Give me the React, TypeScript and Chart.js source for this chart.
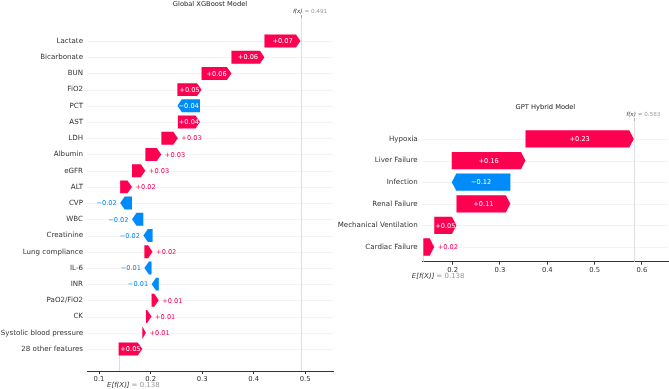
import React, { useEffect, useRef } from "react";
import { Chart, registerables } from "chart.js";

Chart.register(...registerables);

const FONT = "DejaVu Sans";
const PINK = "#ff0051";
const BLUE = "#008bfb";
const AXIS = "#333333";

// Global XGBoost model: SHAP contributions, listed top row first
const xgbFeatures = [
  "Lactate", "Bicarbonate", "BUN", "FiO2", "PCT", "AST", "LDH", "Albumin", "eGFR", "ALT",
  "CVP", "WBC", "Creatinine", "Lung compliance", "IL-6", "INR", "PaO2/FiO2", "CK",
  "Systolic blood pressure", "28 other features",
];
const xgbShap = [
  0.070, 0.064, 0.058, 0.047, -0.044, 0.043, 0.032, 0.031, 0.026, 0.023,
  -0.023, -0.022, -0.018, 0.016, -0.014, -0.014, 0.014, 0.011, 0.007, 0.046,
];
const xgbBase = 0.138;
const xgbTicks = [0.1, 0.2, 0.3, 0.4, 0.5];

// GPT hybrid model: SHAP contributions, listed top row first
const gptFeatures = [
  "Hypoxia", "Liver Failure", "Infection", "Renal Failure", "Mechanical Ventilation", "Cardiac Failure",
];
const gptShap = [0.229, 0.156, -0.124, 0.114, 0.047, 0.023];
const gptBase = 0.138;
const gptTicks = [0.2, 0.3, 0.4, 0.5, 0.6];

const fmtShap = (v: number) => (v < 0 ? "\u2212" : "+") + Math.abs(v).toFixed(2);

type Segment = { row: number; start: number; end: number; value: number; name: string };

// Stack contributions upward from the base value (bottom row first)
function buildSegments(features: string[], shap: number[], base: number): Segment[] {
  const n = features.length;
  const segs: Segment[] = new Array(n);
  let cum = base;
  for (let k = n - 1; k >= 0; k--) {
    const row = n - 1 - k;
    segs[k] = { row, start: cum, end: cum + shap[k], value: shap[k], name: features[k] };
    cum += shap[k];
  }
  return segs;
}

type PanelProps = {
  title: string;
  features: string[];
  shap: number[];
  base: number;
  ticks: number[];
  xMin: number;
  xMax: number;
  yMin: number;
  yMax: number;
  left: number;
  top: number;
  width: number;
  height: number;
  labelWidth: number;
  axisHeight: number;
  padTop: number;
  padRight: number;
  labelPad: number;
};

function WaterfallPanel(p: PanelProps) {
  const ref = useRef<HTMLCanvasElement | null>(null);

  useEffect(() => {
    const canvas = ref.current;
    if (!canvas) return;
    const segs = buildSegments(p.features, p.shap, p.base);
    const n = segs.length;
    const fx = segs[0].end;
    const nameByRow: Record<number, string> = {};
    segs.forEach((s) => (nameByRow[s.row] = s.name));

    const waterfall = {
      id: "waterfall",
      beforeDatasetsDraw(chart: any) {
        const { ctx, chartArea: a, scales } = chart;
        const x = scales.x;
        const y = scales.y;
        ctx.save();
        ctx.lineWidth = 1;
        ctx.strokeStyle = "#f3f3f3";
        for (let r = 0; r < n; r++) {
          const py = Math.round(y.getPixelForValue(r)) + 0.5;
          ctx.beginPath();
          ctx.moveTo(a.left, py);
          ctx.lineTo(a.right, py);
          ctx.stroke();
        }
        const fxPx = Math.round(x.getPixelForValue(fx)) + 0.5;
        ctx.strokeStyle = "#e0e0e0";
        ctx.beginPath();
        ctx.moveTo(fxPx, a.top);
        ctx.lineTo(fxPx, a.bottom);
        ctx.stroke();
        ctx.strokeStyle = "#aaaaaa";
        ctx.beginPath();
        ctx.moveTo(fxPx, a.top - 3);
        ctx.lineTo(fxPx, a.top);
        ctx.stroke();
        const ePx = Math.round(x.getPixelForValue(p.base)) + 0.5;
        ctx.strokeStyle = "#dddddd";
        ctx.beginPath();
        ctx.moveTo(ePx, a.bottom - (a.bottom - a.top) / n);
        ctx.lineTo(ePx, a.bottom);
        ctx.stroke();
        ctx.restore();
      },
      afterDatasetsDraw(chart: any) {
        const { ctx, scales } = chart;
        const x = scales.x;
        const meta = chart.getDatasetMeta(0);
        ctx.save();
        ctx.font = `6.6px '${FONT}'`;
        ctx.textBaseline = "middle";
        meta.data.forEach((el: any, i: number) => {
          const s = segs[i];
          const { y: cy, height: h } = el.getProps(["y", "height"], true);
          const x0 = x.getPixelForValue(s.start);
          const x1 = x.getPixelForValue(s.end);
          const w = Math.abs(x1 - x0);
          const dir = x1 >= x0 ? 1 : -1;
          const hl = Math.min(4.5, w);
          const top = cy - h / 2;
          const bot = cy + h / 2;
          ctx.fillStyle = s.value >= 0 ? PINK : BLUE;
          ctx.beginPath();
          ctx.moveTo(x0, top);
          ctx.lineTo(x1 - dir * hl, top);
          ctx.lineTo(x1, cy);
          ctx.lineTo(x1 - dir * hl, bot);
          ctx.lineTo(x0, bot);
          ctx.closePath();
          ctx.fill();

          const label = fmtShap(s.value);
          const tw = ctx.measureText(label).width;
          if (tw < w) {
            ctx.fillStyle = "#ffffff";
            ctx.textAlign = "center";
            ctx.fillText(label, (x0 + x1) / 2, cy + 0.5);
          } else if (dir > 0) {
            ctx.fillStyle = PINK;
            ctx.textAlign = "left";
            ctx.fillText(label, x1 + 3.5, cy + 0.5);
          } else {
            ctx.fillStyle = BLUE;
            ctx.textAlign = "right";
            ctx.fillText(label, x1 - 3.5, cy + 0.5);
          }
        });
        ctx.restore();
      },
      afterDraw(chart: any) {
        const { ctx, chartArea: a, scales } = chart;
        const x = scales.x;
        ctx.save();
        ctx.textBaseline = "middle";
        // panel title
        ctx.fillStyle = "#222222";
        ctx.font = `6.7px '${FONT}'`;
        ctx.textAlign = "center";
        ctx.fillText(p.title, (a.left + a.right) / 2, a.top - 13.5);
        // f(x) marker label
        const fxPx = x.getPixelForValue(fx);
        ctx.font = `italic 5.6px '${FONT}'`;
        ctx.fillStyle = AXIS;
        ctx.textAlign = "right";
        ctx.fillText("f(x)", fxPx + 2, a.top - 6);
        ctx.font = `5.6px '${FONT}'`;
        ctx.fillStyle = "#999999";
        ctx.textAlign = "left";
        ctx.fillText("= " + fx.toFixed(3), fxPx + 4, a.top - 6);
        // E[f(X)] marker label
        const ePx = x.getPixelForValue(p.base);
        ctx.font = `italic 7px '${FONT}'`;
        ctx.fillStyle = AXIS;
        ctx.textAlign = "right";
        ctx.fillText("E[f(X)]", ePx + 11, a.bottom + 14.5);
        ctx.font = `7px '${FONT}'`;
        ctx.fillStyle = "#999999";
        ctx.textAlign = "left";
        ctx.fillText("= " + p.base.toFixed(3), ePx + 13, a.bottom + 14.5);
        ctx.restore();
      },
    };

    const chart = new Chart(canvas, {
      type: "bar",
      data: {
        datasets: [
          {
            data: segs.map((s) => ({ x: [s.start, s.end], y: s.row })) as any,
            backgroundColor: "rgba(0,0,0,0)",
            borderWidth: 0,
            categoryPercentage: 1,
            barPercentage: 0.8,
          },
        ],
      },
      options: {
        indexAxis: "y",
        responsive: false,
        animation: false,
        events: [],
        layout: { padding: { top: p.padTop, right: p.padRight, left: 0, bottom: 0 } },
        plugins: {
          legend: { display: false },
          tooltip: { enabled: false },
          title: { display: false },
        },
        scales: {
          x: {
            type: "linear",
            position: "bottom",
            min: p.xMin,
            max: p.xMax,
            afterBuildTicks: (s: any) => {
              s.ticks = p.ticks.map((v) => ({ value: v }));
            },
            afterFit: (s: any) => {
              s.height = p.axisHeight;
            },
            ticks: {
              callback: (v: any) => Number(v).toFixed(1),
              color: AXIS,
              font: { family: FONT, size: 6.8 },
              padding: 1.5,
              maxRotation: 0,
              autoSkip: false,
            },
            grid: {
              display: true,
              drawOnChartArea: false,
              drawTicks: true,
              tickLength: 3,
              tickColor: AXIS,
              tickWidth: 1,
            },
            border: { display: true, color: AXIS, width: 1 },
          },
          y: {
            type: "linear",
            min: p.yMin,
            max: p.yMax,
            offset: false,
            afterBuildTicks: (s: any) => {
              s.ticks = segs.map((sg) => ({ value: sg.row }));
            },
            afterFit: (s: any) => {
              s.width = p.labelWidth;
            },
            ticks: {
              callback: (v: any) => nameByRow[Number(v)] ?? "",
              color: AXIS,
              font: { family: FONT, size: 7.1 },
              padding: p.labelPad,
              autoSkip: false,
            },
            grid: { display: false, drawTicks: false, tickLength: 0 },
            border: { display: false },
          },
        },
      } as any,
      plugins: [waterfall],
    });
    return () => chart.destroy();
  }, []);

  return (
    <canvas
      ref={ref}
      width={p.width}
      height={p.height}
      style={{ position: "absolute", left: p.left, top: p.top, width: p.width, height: p.height }}
    />
  );
}

export default function App() {
  return (
    <div
      style={{
        position: "fixed",
        left: 0,
        top: 0,
        width: 669,
        height: 389,
        background: "#ffffff",
        overflow: "hidden",
      }}
    >
      <WaterfallPanel
        title="Global XGBoost Model"
        features={xgbFeatures}
        shap={xgbShap}
        base={xgbBase}
        ticks={xgbTicks}
        xMin={0.0767}
        xMax={0.554}
        yMin={-1.36}
        yMax={20.42}
        left={0}
        top={0}
        width={336}
        height={389}
        labelWidth={87}
        axisHeight={18}
        padTop={18}
        padRight={3}
        labelPad={4}
      />
      <WaterfallPanel
        title="GPT Hybrid Model"
        features={gptFeatures}
        shap={gptShap}
        base={gptBase}
        ticks={gptTicks}
        xMin={0.1366}
        xMax={0.6552}
        yMin={-0.68}
        yMax={5.83}
        left={336}
        top={100}
        width={333}
        height={185}
        labelWidth={86.7}
        axisHeight={23.3}
        padTop={21}
        padRight={1}
        labelPad={5}
      />
    </div>
  );
}
